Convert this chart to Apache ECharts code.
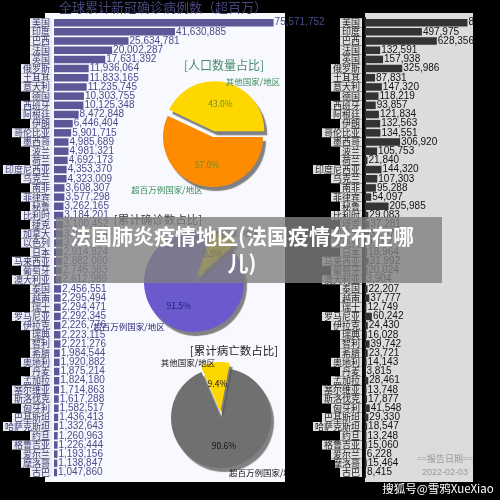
<!DOCTYPE html>
<html><head><meta charset="utf-8">
<script src="https://cdn.jsdelivr.net/npm/echarts@6/dist/echarts.min.js"></script>
<style>html,body{margin:0;padding:0;background:#000}#c{width:500px;height:500px}</style>
</head><body><div id="c"></div>
<script>
const countries = ['美国','印度','巴西','法国','英国','俄罗斯','土耳其','意大利','德国','西班牙','阿根廷','伊朗','哥伦比亚','墨西哥','波兰','荷兰','印度尼西亚','乌克兰','南非','菲律宾','秘鲁','比利时','捷克','加拿大','以色列','日本','马来西亚','葡萄牙','澳大利亚','泰国','越南','瑞士','罗马尼亚','伊拉克','瑞典','智利','希腊','奥地利','丹麦','孟加拉','塞尔维亚','斯洛伐克','匈牙利','巴基斯坦','哈萨克斯坦','约旦','格鲁吉亚','爱尔兰','摩洛哥','古巴'];
const cases = [75571752,41630885,25634781,20002287,17631392,11936064,11833165,11235745,10303755,10125348,8472848,6446404,5901715,4985689,4981321,4692173,4353370,4323009,3608307,3577298,3262165,3184201,3100452,3071234,3057455,2914824,2882060,2745383,2612989,2456551,2295494,2294471,2292345,2226776,2223115,2221276,1984544,1920882,1875214,1824180,1714863,1617288,1582517,1436413,1332643,1260963,1226444,1193156,1138847,1047860];
const deaths = [896408,497975,628356,132591,157938,325986,87831,147320,118219,93857,121834,132563,134551,306920,105753,21840,144320,107303,95288,54097,205985,29083,37281,33978,9152,18964,31992,20024,3904,22207,37777,12749,60242,24430,16028,39742,23721,14143,3815,28461,13748,17877,41548,29330,18547,13248,15060,6228,15464,8415];
const pieNames = ['其他国家/地区','超百万例国家/地区'];
const popShare = [43.0, 57.0];
const caseShare = [8.5, 91.5];
const deathShare = [9.4, 90.6];
const mainTitle = '全球累计新冠确诊病例数（超百万）';
const pieTitles = ['[人口数量占比]','[累计确诊数占比]','[累计病亡数占比]'];
const overlayText = '法国肺炎疫情地区(法国疫情分布在哪\n儿)';
const reportLabel = '==报告日期==';
const reportDate = '2022-02-03';
const watermark = '搜狐号@雪鸦XueXiao';

const CJK = 'Noto Sans CJK SC';
const LAT = 'Liberation Sans, Noto Sans CJK SC';
const fmt = v => v.toLocaleString('en-US');

function pieSeries(vals, center, startAngle, colors, labelColors) {
  return {
    type: 'pie', silent: true, center: center, radius: 50, startAngle: startAngle,
    clockwise: true, selectedMode: 'single', selectedOffset: 6, animation: false,
    label: { position: 'inner', fontSize: 8.5, fontFamily: CJK,
      formatter: p => p.value.toFixed(1) + '%' },
    labelLine: { show: false },
    itemStyle: { shadowColor: 'rgba(90,90,90,0.75)', shadowBlur: 1, shadowOffsetX: 3, shadowOffsetY: 4 },
    select: { itemStyle: { borderWidth: 0 } },
    data: vals.map((v, i) => ({ name: pieNames[i], value: v, selected: i === 0,
      itemStyle: { color: colors[i] }, label: { color: labelColors[i] } })),
    z: 5
  };
}

const chart = echarts.init(document.getElementById('c'));
chart.setOption({
  backgroundColor: '#000',
  animation: false,
  grid: [
    { left: 45, width: 240, top: 18.1, height: 459 },
    { left: 365, width: 108, top: 18.1, height: 459 }
  ],
  xAxis: [
    { gridIndex: 0, type: 'value', min: 0, max: 79500000, show: false },
    { gridIndex: 1, type: 'value', min: 0, max: 945000, show: false }
  ],
  yAxis: [
    { gridIndex: 0, type: 'category', inverse: true, data: countries,
      axisLine: { show: false }, axisTick: { show: false },
      axisLabel: { margin: 2, fontSize: 9, fontFamily: CJK, color: '#3a3a6e', backgroundColor: '#ebebf5',
        padding: [0, 2], lineHeight: 9, interval: 0 } },
    { gridIndex: 1, type: 'category', inverse: true, data: countries,
      axisLine: { show: true, lineStyle: { color: '#111', width: 2 } }, axisTick: { show: false },
      axisLabel: { margin: 3, fontSize: 9, fontFamily: CJK, color: '#222', backgroundColor: '#dedede',
        padding: [0, 2], lineHeight: 9, interval: 0 } }
  ],
  series: [
    { type: 'bar', xAxisIndex: 0, yAxisIndex: 0, data: cases, barWidth: 7.5, silent: true,
      itemStyle: { color: '#5c5796' },
      label: { show: true, position: 'right', distance: 1, fontSize: 10, fontFamily: LAT, color: '#4b4b8c',
        formatter: p => fmt(p.value) } },
    { type: 'bar', xAxisIndex: 1, yAxisIndex: 1, data: deaths, barWidth: 7.5, silent: true,
      itemStyle: { color: '#333' },
      label: { show: true, position: 'right', distance: 1, fontSize: 10, fontFamily: LAT, color: '#111',
        formatter: p => fmt(p.value) } },
    pieSeries(popShare, [213, 137], 154.8, ['#ffd700', '#ff8c00'], ['#6b8e23', '#6b8e23']),
    pieSeries(caseShare, [194, 282], 72, ['#ffd700', '#6a5acd'], ['#333', '#1e1e6e']),
    pieSeries(deathShare, [221, 418], 113, ['#ffd700', '#707070'], ['#111', '#111'])
  ],
  graphic: [
    { type: 'rect', z: -1, shape: { x: 45, y: 13, width: 240, height: 469 }, style: { fill: '#f8f8ff' } },
    { type: 'rect', z: -1, shape: { x: 365, y: 13, width: 108, height: 469 }, style: { fill: '#dcdcdc' } },
    { type: 'rect', z: 20, shape: { x: 474, y: 13, width: 26, height: 20 }, style: { fill: '#000' } },
    { type: 'text', z: 10, x: 163, y: 7, style: { text: mainTitle, fill: '#46467a', font: '13px "Noto Sans CJK SC"', textAlign: 'center', textVerticalAlign: 'middle' } },
    { type: 'text', z: 10, x: 224, y: 65, style: { text: pieTitles[0], fill: '#4a8a6a', font: '12px "Noto Sans CJK SC"', textAlign: 'center', textVerticalAlign: 'middle' } },
    { type: 'text', z: 10, x: 253, y: 82, style: { text: pieNames[0], fill: '#3a8c5a', font: '8.5px "Noto Sans CJK SC"', textAlign: 'center', textVerticalAlign: 'middle' } },
    { type: 'text', z: 10, x: 167, y: 190, style: { text: pieNames[1], fill: '#3a8c5a', font: '8.5px "Noto Sans CJK SC"', textAlign: 'center', textVerticalAlign: 'middle' } },
    { type: 'text', z: 10, x: 158, y: 220, style: { text: pieTitles[1], fill: '#333', font: '11.5px "Noto Sans CJK SC"', textAlign: 'center', textVerticalAlign: 'middle' } },
    { type: 'text', z: 10, x: 232, y: 233, style: { text: pieNames[0], fill: '#333', font: '8.5px "Noto Sans CJK SC"', textAlign: 'center', textVerticalAlign: 'middle' } },
    { type: 'text', z: 10, x: 129, y: 327, style: { text: pieNames[1], fill: '#2a2a7a', font: '8.5px "Noto Sans CJK SC"', textAlign: 'center', textVerticalAlign: 'middle' } },
    { type: 'text', z: 10, x: 234, y: 351, style: { text: pieTitles[2], fill: '#222', font: '11.5px "Noto Sans CJK SC"', textAlign: 'center', textVerticalAlign: 'middle' } },
    { type: 'text', z: 10, x: 188, y: 363, style: { text: pieNames[0], fill: '#111', font: '8.5px "Noto Sans CJK SC"', textAlign: 'center', textVerticalAlign: 'middle' } },
    { type: 'text', z: 10, x: 229, y: 473, style: { text: pieNames[1], fill: '#111', font: '8.5px "Noto Sans CJK SC"', textAlign: 'left', textVerticalAlign: 'middle' } },
    { type: 'rect', z: 20, shape: { x: 285, y: 460, width: 50, height: 25 }, style: { fill: '#000' } },
    { type: 'text', z: 10, x: 445, y: 459, style: { text: reportLabel, fill: '#999', font: '9px "Noto Sans CJK SC"', textAlign: 'center', textVerticalAlign: 'middle' } },
    { type: 'text', z: 10, x: 445, y: 473, style: { text: reportDate, fill: '#999', font: '9px "Liberation Sans"', textAlign: 'center', textVerticalAlign: 'middle' } },
    { type: 'rect', z: 100, shape: { x: 56, y: 217, width: 386, height: 66 }, style: { fill: 'rgba(128,128,128,0.8)' } },
    { type: 'text', z: 101, x: 242, y: 250, style: { text: overlayText, fill: '#fff', font: 'bold 21px "Noto Sans CJK SC"', textAlign: 'center', textVerticalAlign: 'middle', lineHeight: 27 } },
    { type: 'text', z: 101, x: 438, y: 489, style: { text: watermark, fill: '#fff', font: '11.5px "Noto Sans CJK SC"', textAlign: 'center', textVerticalAlign: 'middle' } }
  ]
});
</script></body></html>
